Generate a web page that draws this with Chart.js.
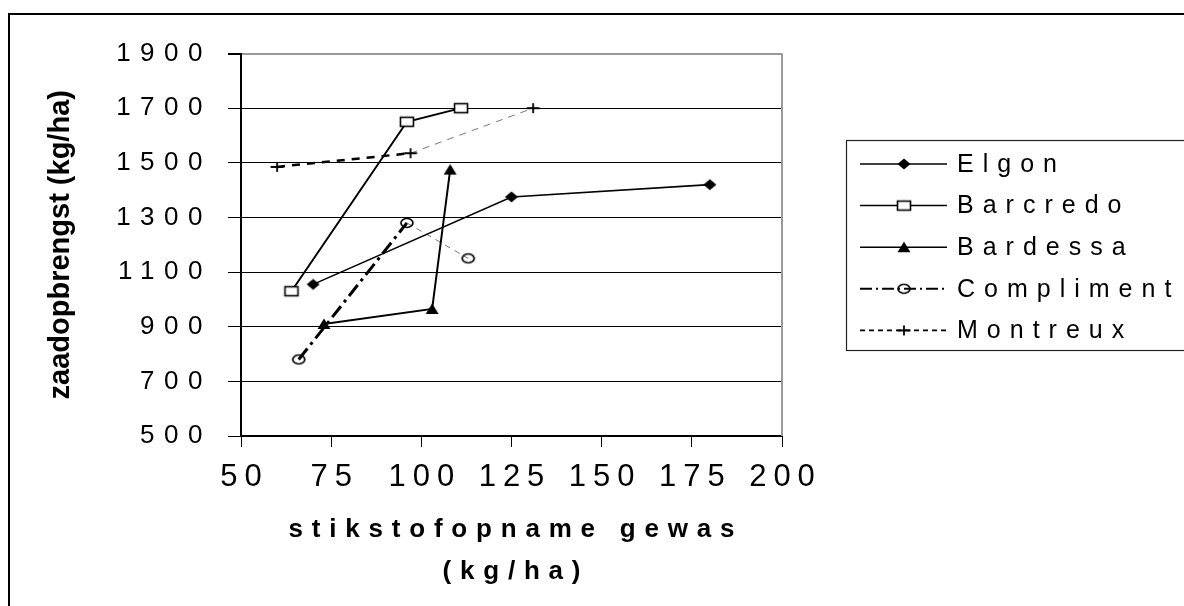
<!DOCTYPE html>
<html><head><meta charset="utf-8">
<script src="https://cdn.jsdelivr.net/npm/chart.js@4/dist/chart.umd.min.js"></script>
<style>html,body{margin:0;padding:0;background:#fff;}canvas{display:block;}</style>
</head><body>
<canvas id="c" width="1184" height="606"></canvas>
<script>
// ---- data ----
const seriesNames = ['Elgon', 'Barcredo', 'Bardessa', 'Compliment', 'Montreux'];
const elgonX = [70, 125, 180];
const elgonY = [1055, 1375, 1420];
const barcredoX = [64, 96, 111];
const barcredoY = [1030, 1650, 1700];
const bardessaX = [73, 103, 108];
const bardessaY = [910, 965, 1475];
const complimentX = [66, 96, 113];
const complimentY = [780, 1280, 1150];
const montreuxX = [60, 97, 131];
const montreuxY = [1485, 1535, 1700];
const xTickValues = [50, 75, 100, 125, 150, 175, 200];
const yTickValues = [500, 700, 900, 1100, 1300, 1500, 1700, 1900];
const xTitle = ['stikstofopname gewas', '(kg/ha)'];
const yTitle = 'zaadopbrengst (kg/ha)';

const FONT = "'Liberation Sans', Arial, sans-serif";

function pts(xs, ys) { return xs.map((x, i) => ({ x: x, y: ys[i] })); }

function marker(kind) {
  const c = document.createElement('canvas');
  const W = 18, H = 16;
  c.width = W; c.height = H;
  const g = c.getContext('2d');
  const cx = W / 2, cy = H / 2;
  g.strokeStyle = '#000'; g.fillStyle = '#000';
  if (kind === 'diamond') {
    g.beginPath(); g.moveTo(cx - 6.5, cy); g.lineTo(cx, cy - 5.5); g.lineTo(cx + 6.5, cy); g.lineTo(cx, cy + 5.5); g.closePath(); g.fill();
  } else if (kind === 'square') {
    g.fillStyle = '#fff'; g.lineWidth = 1.6;
    g.fillRect(cx - 6.5, cy - 4.5, 13, 9); g.strokeRect(cx - 6.5, cy - 4.5, 13, 9);
  } else if (kind === 'triangle') {
    g.beginPath(); g.moveTo(cx - 6.5, cy + 5); g.lineTo(cx, cy - 5.5); g.lineTo(cx + 6.5, cy + 5); g.closePath(); g.fill();
  } else if (kind === 'circle') {
    g.lineWidth = 1.7; g.beginPath(); g.ellipse(cx, cy, 6, 4.5, 0, 0, Math.PI * 2); g.stroke();
  } else if (kind === 'cross') {
    g.lineWidth = 1.8; g.beginPath(); g.moveTo(cx - 6.5, cy); g.lineTo(cx + 6.5, cy); g.moveTo(cx, cy - 5); g.lineTo(cx, cy + 5); g.stroke();
  }
  return c;
}

const markers = [marker('diamond'), marker('square'), marker('triangle'), marker('circle'), marker('cross')];
const legendDash = [[], [], [], [12, 4, 2, 4], [5, 4]];
const legendWidth = [1.5, 1.5, 1.5, 2, 1.8];

const datasets = [
  { label: seriesNames[0], data: pts(elgonX, elgonY), borderColor: '#000', borderWidth: 1.6, pointStyle: markers[0] },
  { label: seriesNames[1], data: pts(barcredoX, barcredoY), borderColor: '#000', borderWidth: 2, pointStyle: markers[1] },
  { label: seriesNames[2], data: pts(bardessaX, bardessaY), borderColor: '#000', borderWidth: 2, pointStyle: markers[2] },
  { label: seriesNames[3], data: pts(complimentX, complimentY), borderColor: '#000', borderWidth: 2, pointStyle: markers[3],
    segment: {
      borderColor: c => c.p0DataIndex === 0 ? '#000' : '#777',
      borderDash: c => c.p0DataIndex === 0 ? [14, 5, 3, 5] : [6, 5],
      borderWidth: c => c.p0DataIndex === 0 ? 3 : 1
    } },
  { label: seriesNames[4], data: pts(montreuxX, montreuxY), borderColor: '#000', borderWidth: 2, pointStyle: markers[4],
    segment: {
      borderColor: c => c.p0DataIndex === 0 ? '#000' : '#777',
      borderDash: c => c.p0DataIndex === 0 ? [8, 7] : [7, 6],
      borderWidth: c => c.p0DataIndex === 0 ? 2.5 : 1
    } }
].map(d => Object.assign({ showLine: true, fill: false, tension: 0, pointRadius: 6, pointHoverRadius: 6, borderCapStyle: 'butt' }, d));

const spacingPlugin = {
  id: 'spacing',
  beforeDraw(chart) {
    const cfg = { x: { labels: 7, title: 8.8 }, y: { labels: 9.5, title: 0 } };
    for (const id of ['x', 'y']) {
      const s = chart.scales[id];
      if (!s || s.__patched) continue;
      const L = cfg[id].labels, T = cfg[id].title;
      const dl = s.drawLabels.bind(s), dt = s.drawTitle.bind(s);
      s.drawLabels = function (a) {
        const c = this.ctx; c.save(); c.letterSpacing = L + 'px';
        if (id === 'x') c.translate(L / 2, 0);
        dl(a); c.restore();
      };
      s.drawTitle = function (a) {
        const c = this.ctx; c.save(); c.letterSpacing = T + 'px';
        if (id === 'x') c.translate(T / 2, 0);
        dt(a); c.restore();
      };
      s.__patched = true;
    }
  },
  afterDraw(chart) {
    const c = chart.ctx, a = chart.chartArea;
    c.save();
    // plot-area right border
    c.strokeStyle = '#999'; c.lineWidth = 2;
    c.beginPath(); c.moveTo(a.right, a.top); c.lineTo(a.right, a.bottom); c.stroke();
    // outer frame
    c.strokeStyle = '#000'; c.lineWidth = 2;
    c.strokeRect(9, 14, 1400, 800);
    // legend box
    c.strokeStyle = '#222'; c.lineWidth = 1.2;
    c.strokeRect(846.5, 140.5, 500, 210);
    // legend entries
    c.font = '25px ' + FONT; c.fillStyle = '#000'; c.textBaseline = 'middle'; c.textAlign = 'left';
    c.letterSpacing = '9px';
    chart.data.datasets.forEach((d, i) => {
      const y = 164 + i * 41.6;
      c.save();
      c.strokeStyle = '#000'; c.lineWidth = legendWidth[i]; c.setLineDash(legendDash[i]);
      c.beginPath(); c.moveTo(860, y); c.lineTo(947, y); c.stroke();
      c.restore();
      const m = d.pointStyle;
      c.drawImage(m, 904 - m.width / 2, y - m.height / 2);
      c.fillText(d.label, 957, y + 1);
    });
    c.restore();
  }
};

new Chart(document.getElementById('c'), {
  type: 'scatter',
  data: { datasets: datasets },
  plugins: [spacingPlugin],
  options: {
    responsive: false,
    animation: false,
    events: [],
    layout: { padding: { left: 0, top: 53.5, right: 402, bottom: 0 } },
    plugins: { legend: { display: false }, tooltip: { enabled: false } },
    scales: {
      x: {
        type: 'linear',
        min: xTickValues[0], max: xTickValues[xTickValues.length - 1],
        afterBuildTicks: s => { s.ticks = xTickValues.map(v => ({ value: v })); },
        afterFit: s => { s.height = 170; },
        grid: { drawOnChartArea: false, drawTicks: true, tickLength: 11, color: '#000', tickColor: '#000', lineWidth: 1 },
        border: { display: true, color: '#000', width: 2 },
        ticks: { color: '#000', font: { family: FONT, size: 31 }, padding: 12, maxRotation: 0, autoSkip: false, callback: v => String(v) },
        title: { display: true, text: xTitle, color: '#000', font: { family: FONT, size: 26, weight: 'bold', lineHeight: 42 / 26 }, padding: { top: 0, bottom: 13 } }
      },
      y: {
        type: 'linear',
        min: yTickValues[0], max: yTickValues[yTickValues.length - 1],
        afterBuildTicks: s => { s.ticks = yTickValues.map(v => ({ value: v })); },
        afterFit: s => { s.width = 241; },
        grid: {
          drawTicks: true, tickLength: 13, tickColor: '#000',
          color: c => (c.tick && c.tick.value === yTickValues[yTickValues.length - 1]) ? '#999' : '#000',
          lineWidth: c => (c.tick && c.tick.value === yTickValues[yTickValues.length - 1]) ? 2 : 1
        },
        border: { display: true, color: '#000', width: 2 },
        ticks: { color: '#000', font: { family: FONT, size: 26 }, padding: 16, autoSkip: false, callback: v => String(v) },
        title: { display: true, text: yTitle, color: '#000', font: { family: FONT, size: 29, weight: 'bold', lineHeight: 1.2 }, padding: { top: 44, bottom: 0 } }
      }
    }
  }
});
</script>
</body></html>
